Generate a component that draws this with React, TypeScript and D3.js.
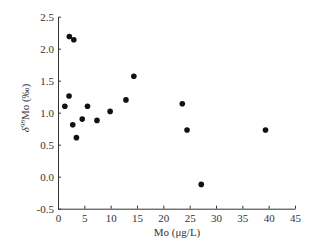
import React, { useEffect, useRef } from 'react';
import * as d3 from 'd3';

// Mo concentration (µg/L) and δ98Mo (‰)
const moValues = [1.3, 2.1, 2.15, 3.0, 2.8, 3.5, 4.6, 5.6, 7.4, 9.9, 12.9, 14.4, 23.6, 24.5, 27.2, 39.4];
const deltaValues = [1.1, 1.26, 2.19, 2.14, 0.81, 0.61, 0.9, 1.1, 0.88, 1.02, 1.2, 1.57, 1.14, 0.73, -0.12, 0.73];
const xTicks = [0, 5, 10, 15, 20, 25, 30, 35, 40, 45];
const yTicks = [-0.5, 0.0, 0.5, 1.0, 1.5, 2.0, 2.5];

const W = 323;
const H = 244;
const font = '"Liberation Serif", "Times New Roman", serif';

export default function App() {
  const ref = useRef<SVGSVGElement>(null);

  useEffect(() => {
    const svg = d3.select(ref.current);
    svg.selectAll('*').remove();

    const x = d3.scaleLinear().domain([0, 45]).range([58, 295]);
    const y = d3.scaleLinear().domain([-0.5, 2.5]).range([208.7, 16.7]);

    // x axis, ticks pointing inward
    const gx = svg.append('g').attr('transform', `translate(0,${y(-0.5)})`);
    gx.call(d3.axisBottom(x).tickValues(xTicks).tickSizeInner(-3).tickSizeOuter(0).tickPadding(6));

    // y axis
    const gy = svg.append('g').attr('transform', `translate(${x(0)},0)`);
    gy.call(
      d3.axisLeft(y).tickValues(yTicks).tickSizeInner(-3).tickSizeOuter(0).tickPadding(4)
        .tickFormat(d3.format('.1f'))
    );

    svg.selectAll('.domain').attr('stroke', '#333').attr('stroke-width', 1);
    svg.selectAll('.tick line').attr('stroke', '#333');
    svg.selectAll('.tick text')
      .attr('fill', '#333')
      .style('font-family', font)
      .style('font-size', '11px');
    gy.selectAll('.tick text').text((d: any) => (d === 0 ? '0.0' : d3.format('.1f')(d).replace('−', '-')));

    // points
    svg.append('g')
      .selectAll('circle')
      .data(moValues.map((m, i) => [m, deltaValues[i]]))
      .enter()
      .append('circle')
      .attr('cx', d => x(d[0]))
      .attr('cy', d => y(d[1]))
      .attr('r', 2.8)
      .attr('fill', '#111');

    // axis titles
    svg.append('text')
      .attr('x', 177)
      .attr('y', 236)
      .attr('text-anchor', 'middle')
      .attr('fill', '#333')
      .style('font-family', font)
      .style('font-size', '11px')
      .text('Mo (μg/L)');

    const yl = svg.append('text')
      .attr('transform', 'translate(29,108) rotate(-90)')
      .attr('text-anchor', 'middle')
      .attr('fill', '#333')
      .style('font-family', font)
      .style('font-size', '11px');
    yl.append('tspan').style('font-style', 'italic').text('δ');
    yl.append('tspan').attr('dy', -4).style('font-size', '7px').text('98');
    yl.append('tspan').attr('dy', 4).text('Mo (‰)');
  }, []);

  return (
    <svg
      ref={ref}
      width={W}
      height={H}
      style={{ position: 'absolute', left: 0, top: 0, background: '#fff' }}
    />
  );
}
